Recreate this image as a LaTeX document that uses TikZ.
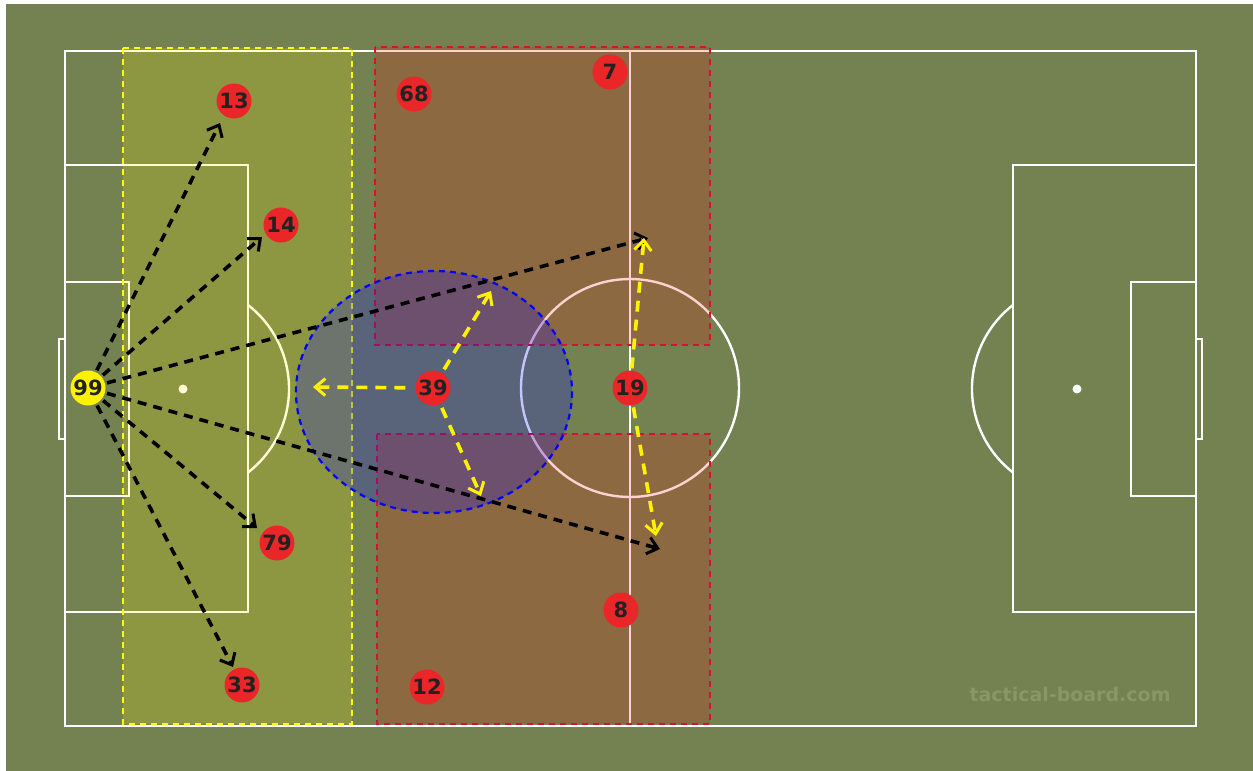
\documentclass[tikz,border=0pt]{standalone}
\usepackage{fontspec}
\setmainfont{DejaVu Sans}
\usetikzlibrary{arrows.meta}
\definecolor{grass}{RGB}{116,129,81}
\definecolor{plred}{RGB}{234,38,40}
\definecolor{plyel}{RGB}{255,242,0}
\definecolor{zonered}{RGB}{214,18,52}
\definecolor{numtxt}{RGB}{34,34,34}
\definecolor{wm}{RGB}{136,150,104}
\definecolor{zoneyel}{RGB}{255,255,0}
\pgfdeclarelayer{base}
\pgfdeclarelayer{mid}
\pgfsetlayers{base,mid,main}
\begin{document}
\begin{tikzpicture}[x=1pt,y=-1pt,
  pline/.style={draw=white, line width=2.4pt},
  spotdot/.style={circle, fill=white, minimum size=9pt, inner sep=0pt},
  player/.style={circle, fill=plred, minimum size=35pt, inner sep=0pt,
    font=\bfseries\fontsize{21}{21}\selectfont, text=numtxt},
  keeper/.style={player, fill=plyel},
  yzone/.style={draw=zoneyel, fill=zoneyel, fill opacity=0.18, draw opacity=1,
    line width=2pt, dash pattern=on 6pt off 5pt},
  rzone/.style={draw=zonered, fill=red, fill opacity=0.18, draw opacity=1,
    line width=2pt, dash pattern=on 6pt off 5pt},
  bzone/.style={draw=blue, fill=blue, fill opacity=0.23, draw opacity=1,
    line width=2.2pt, dash pattern=on 6pt off 5pt},
  pass/.style={draw=black, line width=3.6pt, dash pattern=on 9pt off 7pt,
    shorten <=2pt, -{Straight Barb[length=10pt,width=17pt,line width=3pt]}},
  run/.style={draw=plyel, line width=3.6pt, dash pattern=on 11pt off 8pt,
    -{Straight Barb[length=10pt,width=17pt,line width=3pt]}}
]
\useasboundingbox (0,0) rectangle (1253,771);
\begin{pgfonlayer}{base}
\fill[white] (0,0) rectangle (1253,771);
\fill[grass] (6,4) rectangle (1253,771);

% pitch markings
\draw[pline] (65,51) rectangle (1196,726);
\draw[pline] (630,51) -- (630,726);
\draw[pline] (630,388) circle[radius=109];
\draw[pline] (65,165) rectangle (248,612);
\draw[pline] (65,282) rectangle (129,496);
\draw[pline] (65,339) -- (59,339) -- (59,439) -- (65,439);
\draw[pline] (1196,165) -- (1013,165) -- (1013,612) -- (1196,612);
\draw[pline] (1196,282) -- (1131,282) -- (1131,496) -- (1196,496);
\draw[pline] (1196,339) -- (1202,339) -- (1202,439) -- (1196,439);
\draw[pline] (248,305) arc[start angle=52.2, end angle=-52.2, x radius=106, y radius=-106];
\draw[pline] (1013,305) arc[start angle=127.8, end angle=232.2, x radius=106, y radius=-106];
\node[spotdot] (lspot) at (183,389) {};
\node[spotdot] (rspot) at (1077,389) {};

% zones
\draw[yzone] (123,48) rectangle (352,724);
\draw[rzone] (375,47) rectangle (710,345);
\draw[rzone] (377,434) rectangle (710,724);
\draw[bzone] (434,392) ellipse[x radius=138, y radius=121];

\node[text=wm, font=\bfseries\fontsize{19}{19}\selectfont] (wmark) at (1070,694) {tactical-board.com};
\end{pgfonlayer}

% players
\node[keeper] (p99) at (88,388) {99};
\node[player] (p13) at (234,101) {13};
\node[player] (p14) at (281,225) {14};
\node[player] (p68) at (414,94) {68};
\node[player] (p7) at (610,72) {7};
\node[player] (p39) at (433,388) {39};
\node[player] (p19) at (630,388) {19};
\node[player] (p79) at (277,543) {79};
\node[player] (p33) at (242,685) {33};
\node[player] (p8) at (621,610) {8};
\node[player] (p12) at (427,687) {12};

% target points
\coordinate (t13) at (220,123);
\coordinate (t14) at (262,237);
\coordinate (tR1) at (648,238);
\coordinate (tR2) at (660,549);
\coordinate (t79) at (257,528);
\coordinate (t33) at (233,667);
\coordinate (y1) at (313,387);
\coordinate (y2) at (491,291);
\coordinate (y3) at (481,496);
\coordinate (y4) at (644,238);
\coordinate (y5) at (656,536);

\begin{pgfonlayer}{mid}
% passes
\draw[pass] (p99) -- (t13);
\draw[pass] (p99) -- (t14);
\draw[pass] (p99) -- (tR1);
\draw[pass] (p99) -- (tR2);
\draw[pass] (p99) -- (t79);
\draw[pass] (p99) -- (t33);

% runs
\draw[run, shorten <=10pt] (p39) -- (y1);
\draw[run, shorten <=4pt] (p39) -- (y2);
\draw[run, shorten <=4pt] (p39) -- (y3);
\draw[run, shorten <=2pt] (p19) -- (y4);
\draw[run, shorten <=2pt] (p19) -- (y5);
\end{pgfonlayer}
\end{tikzpicture}
\end{document}
